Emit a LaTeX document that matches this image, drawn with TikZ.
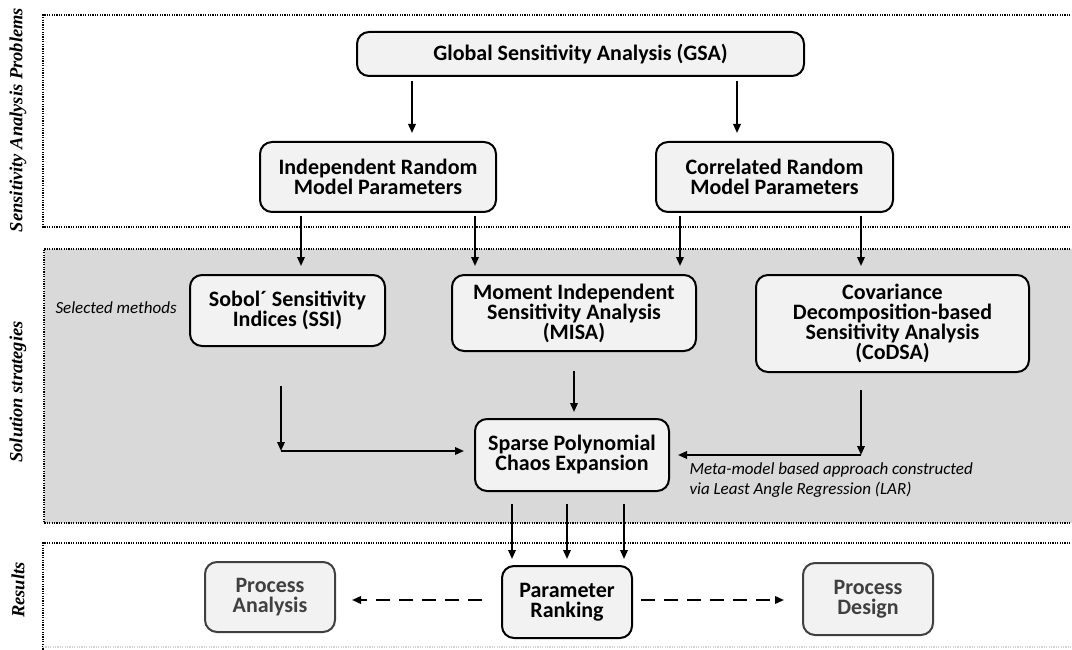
\documentclass[tikz,border=0pt]{standalone}
\usepackage{fontspec}
\setmainfont{Carlito}
\newfontfamily\sidefont{Liberation Serif}
\usetikzlibrary{arrows.meta}

\definecolor{boxfill}{HTML}{F2F2F2}
\definecolor{midgray}{HTML}{D9D9D9}
\definecolor{resgray}{HTML}{404040}

\begin{document}
\begin{tikzpicture}[x=1pt,y=-1pt,
	box/.style={draw,line width=2pt,rounded corners=12pt,fill=boxfill,
		align=center,font=\fontsize{22}{20}\selectfont\bfseries,inner sep=0pt},
	resbox/.style={box,draw=resgray,text=resgray},
	arr/.style={line width=1.8pt,-{Triangle[length=9pt,width=7.5pt]}},
	dasharr/.style={arr,dash pattern=on 14pt off 9pt},
	secline/.style={line width=1.6pt,dash pattern=on 1.2pt off 1.2pt},
	side/.style={rotate=90,font=\sidefont\fontsize{18.5}{20}\selectfont\bfseries\itshape},
	note/.style={font=\fontsize{17}{19.5}\selectfont\itshape,align=left,anchor=west}]
	
	\useasboundingbox (0,0) rectangle (1072,650);
	
	% sections
	\draw[secline] (1080,15) -- (43,15) -- (43,227) -- (1080,227);
	\fill[midgray] (44,249) rectangle (1080,523);
	\draw[secline] (1080,249) -- (44,249) -- (44,523) -- (1080,523);
	\draw[secline] (1080,543) -- (43,543) -- (43,650);
	\draw[secline,gray!35] (43,647) -- (1080,647);
	
	\node[side] (sap) at (18,120) {Sensitivity Analysis Problems};
	\node[side] (sst) at (18,392) {Solution strategies};
	\node[side] (res) at (18,590) {Results};
	
	% boxes
	\node[box,minimum width=447pt,minimum height=44pt] (gsa) at (580.5,54) {Global Sensitivity Analysis (GSA)};
	\node[box,minimum width=236pt,minimum height=70pt] (indep) at (378,177) {Independent Random\\Model Parameters};
	\node[box,minimum width=237pt,minimum height=70pt] (corr) at (774.5,177) {Correlated Random\\Model Parameters};
	\node[box,minimum width=195pt,minimum height=71pt] (sobol) at (287.5,310.5) {Sobol´ Sensitivity\\Indices (SSI)};
	\node[box,minimum width=244pt,minimum height=76pt] (misa) at (574,313) {Moment Independent\\Sensitivity Analysis\\(MISA)};
	\node[box,minimum width=273pt,minimum height=97pt] (codsa) at (892.5,323.5) {Covariance\\Decomposition-based\\Sensitivity Analysis\\(CoDSA)};
	\node[box,minimum width=194pt,minimum height=72pt] (spce) at (572,455) {Sparse Polynomial\\Chaos Expansion};
	\node[box,minimum width=130pt,minimum height=72pt] (rank) at (567,602) {Parameter\\Ranking};
	\node[resbox,minimum width=130pt,minimum height=70pt] (panal) at (270,597) {Process\\Analysis};
	\node[resbox,minimum width=130pt,minimum height=72pt] (pdes) at (868,599) {Process\\Design};
	
	\node[note] (selm) at (52,308) {Selected methods};
	\node[note] (lar) at (686,480) {Meta-model based approach constructed\\via Least Angle Regression (LAR)};
	
	% arrow positions
	\coordinate (xa) at (412,0);
	\coordinate (xb) at (737,0);
	\coordinate (xc) at (301,0);
	\coordinate (xd) at (475,0);
	\coordinate (xe) at (680,0);
	\coordinate (xf) at (861,0);
	\coordinate (xg) at (574,0);
	\coordinate (sc) at (281,451);
	\coordinate (cc) at (861,455);
	\coordinate (ya) at (0,600);
	
	\draw[arr,shorten <=4pt,shorten >=8pt] (gsa.south -| xa) -- (indep.north -| xa);
	\draw[arr,shorten <=4pt,shorten >=8pt] (gsa.south -| xb) -- (corr.north -| xb);
	\draw[arr,shorten <=3pt,shorten >=8pt] (indep.south -| xc) -- (sobol.north -| xc);
	\draw[arr,shorten <=3pt,shorten >=8pt] (indep.south -| xd) -- (misa.north -| xd);
	\draw[arr,shorten <=3pt,shorten >=8pt] (corr.south -| xe) -- (misa.north -| xe);
	\draw[arr,shorten <=3pt,shorten >=8pt] (corr.south -| xf) -- (codsa.north -| xf);
	
	\draw[arr,shorten <=39pt] (sobol.south -| sc) -- (sc);
	\draw[arr,shorten >=10pt] (sc) -- (spce.west |- sc);
	\draw[arr,shorten <=19pt,shorten >=6pt] (misa.south -| xg) -- (spce.north -| xg);
	\draw[arr,shorten <=17pt] (codsa.south -| cc) -- (cc);
	\draw[arr,shorten >=8pt] (cc) -- (spce.east |- cc);
	
	\foreach \px in {512,567,624}
		\draw[arr,shorten <=12pt,shorten >=6pt] (spce.south -| \px,0) -- (rank.north -| \px,0);
	
	\draw[dasharr,shorten <=19pt,shorten >=16pt] (rank.west |- ya) -- (panal.east |- ya);
	\draw[dasharr,shorten <=8pt,shorten >=18pt] (rank.east |- ya) -- (pdes.west |- ya);
	
\end{tikzpicture}
\end{document}
